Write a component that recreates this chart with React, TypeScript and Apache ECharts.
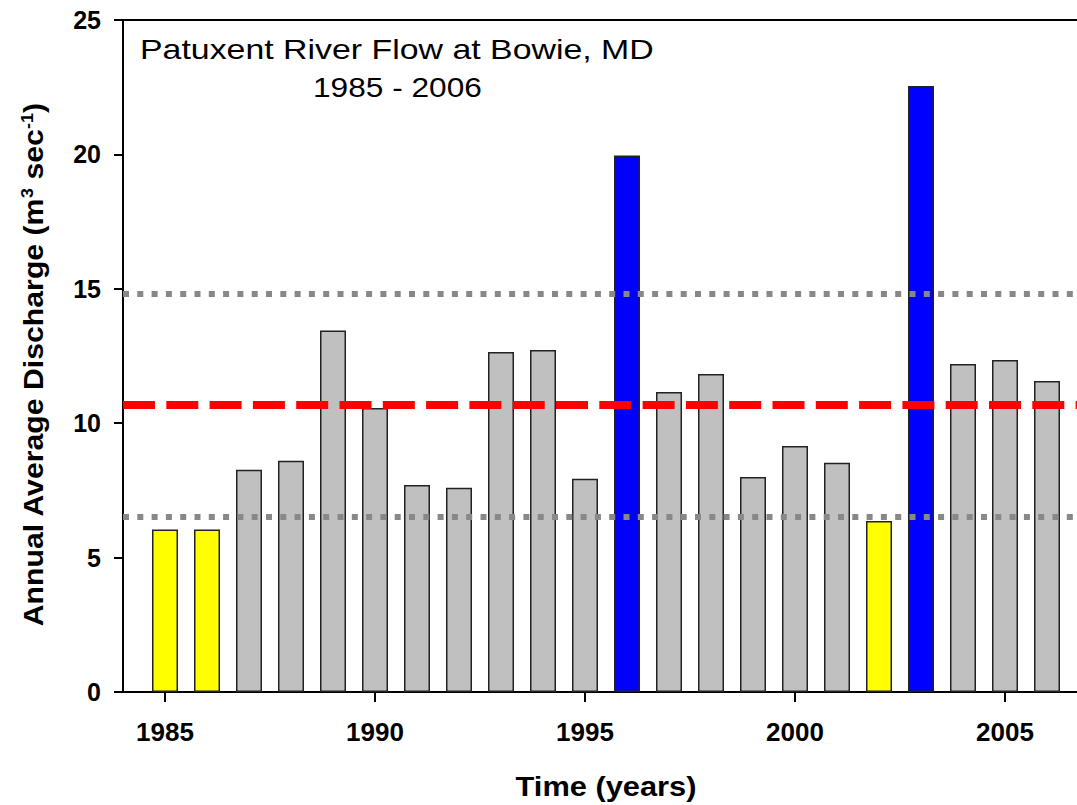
import React, { useEffect, useRef } from "react";
import * as echarts from "echarts";

const years = [1985, 1986, 1987, 1988, 1989, 1990, 1991, 1992, 1993, 1994, 1995, 1996, 1997, 1998, 1999, 2000, 2001, 2002, 2003, 2004, 2005, 2006];
const discharge = [6.05, 6.05, 8.27, 8.6, 13.45, 10.57, 7.7, 7.6, 12.65, 12.72, 7.93, 19.96, 11.16, 11.83, 8.0, 9.15, 8.53, 6.36, 22.54, 12.2, 12.35, 11.57];
const meanFlow = 10.69;
const upperBound = 14.82;
const lowerBound = 6.53;
const xTicks = [1985, 1990, 1995, 2000, 2005];
const yTicks = [0, 5, 10, 15, 20, 25];

const FONT = "'Liberation Sans', Arial, sans-serif";

export default function App() {
  const ref = useRef<HTMLDivElement>(null);
  useEffect(() => {
    if (!ref.current) return;
    const chart = echarts.init(ref.current, undefined, { renderer: "svg" });
    const colorFor = (v: number) => (v > upperBound ? "#0000FF" : v < lowerBound ? "#FFFF00" : "#C0C0C0");
    const option: any = {
      animation: false,
      backgroundColor: "#ffffff",
      grid: { left: 123, right: 1, top: 20, bottom: 113, containLabel: false, outerBoundsMode: "none" },
      xAxis: [
        {
          type: "value",
          min: 1984,
          max: 2007,
          splitLine: { show: false },
          axisLine: { show: true, onZero: false, lineStyle: { color: "#000", width: 2 } },
          axisTick: { show: true, customValues: xTicks, length: 10, lineStyle: { color: "#000", width: 2 } },
          axisLabel: {
            show: true,
            customValues: xTicks,
            formatter: (v: number) => String(v),
            margin: 27,
            color: "#000",
            fontSize: 26,
            fontWeight: "bold",
            fontFamily: FONT,
          },
        },
        {
          type: "value",
          position: "top",
          min: 1984,
          max: 2007,
          splitLine: { show: false },
          axisLine: { show: true, onZero: false, lineStyle: { color: "#000", width: 2 } },
          axisTick: { show: false },
          axisLabel: { show: false },
        },
      ],
      yAxis: {
        type: "value",
        min: yTicks[0],
        max: yTicks[yTicks.length - 1],
        interval: 5,
        splitLine: { show: false },
        axisLine: { show: true, lineStyle: { color: "#000", width: 2 } },
        axisTick: { show: true, length: 9, lineStyle: { color: "#000", width: 2 } },
        axisLabel: { margin: 22, color: "#000", fontSize: 25, fontWeight: "bold", fontFamily: FONT },
      },
      series: [
        {
          type: "bar",
          xAxisIndex: 0,
          barWidth: 26,
          data: years.map((y, i) => ({
            value: [y, discharge[i]],
            itemStyle: { color: colorFor(discharge[i]), borderColor: "#222", borderWidth: 1.5 },
          })),
          markLine: {
            silent: true,
            symbol: "none",
            label: { show: false },
            data: [
              { yAxis: upperBound, lineStyle: { color: "#888888", width: 6, type: [6, 8.3] } },
              { yAxis: lowerBound, lineStyle: { color: "#888888", width: 6, type: [6, 8.3] } },
              { yAxis: meanFlow, lineStyle: { color: "#FF0000", width: 8, type: [32, 11.3] } },
            ],
          },
        },
      ],
      graphic: [
        {
          type: "text",
          x: 140,
          y: 50,
          scaleX: 1.21,
          style: {
            text: "Patuxent River Flow at Bowie, MD",
            fill: "#000",
            fontSize: 28,
            fontFamily: FONT,
            align: "left",
            verticalAlign: "middle",
          },
        },
        {
          type: "text",
          x: 313,
          y: 87,
          scaleX: 1.13,
          style: {
            text: "1985 - 2006",
            fill: "#000",
            fontSize: 28,
            fontFamily: FONT,
            align: "left",
            verticalAlign: "middle",
          },
        },
        {
          type: "text",
          x: 606,
          y: 786,
          scaleX: 1.1,
          style: {
            text: "Time (years)",
            fill: "#000",
            fontSize: 28,
            fontWeight: "bold",
            fontFamily: FONT,
            align: "center",
            verticalAlign: "middle",
          },
        },
        {
          type: "text",
          x: 34,
          y: 365,
          rotation: Math.PI / 2,
          scaleX: 1.12,
          style: {
            text: "Annual Average Discharge (m{sup|3} sec{sup|-1})",
            fill: "#000",
            fontSize: 27,
            fontWeight: "bold",
            fontFamily: FONT,
            align: "center",
            verticalAlign: "middle",
            rich: {
              sup: { fontSize: 16, fontWeight: "bold", fontFamily: FONT, fill: "#000", verticalAlign: "top", padding: [0, 0, 12, 0] },
            },
          },
        },
      ],
    };
    chart.setOption(option);
    return () => chart.dispose();
  }, []);
  return (
    <div style={{ position: "absolute", left: 0, top: 0, width: 1077, height: 805, overflow: "hidden", background: "#fff" }}>
      <div ref={ref} style={{ width: 1090, height: 805 }} />
    </div>
  );
}
